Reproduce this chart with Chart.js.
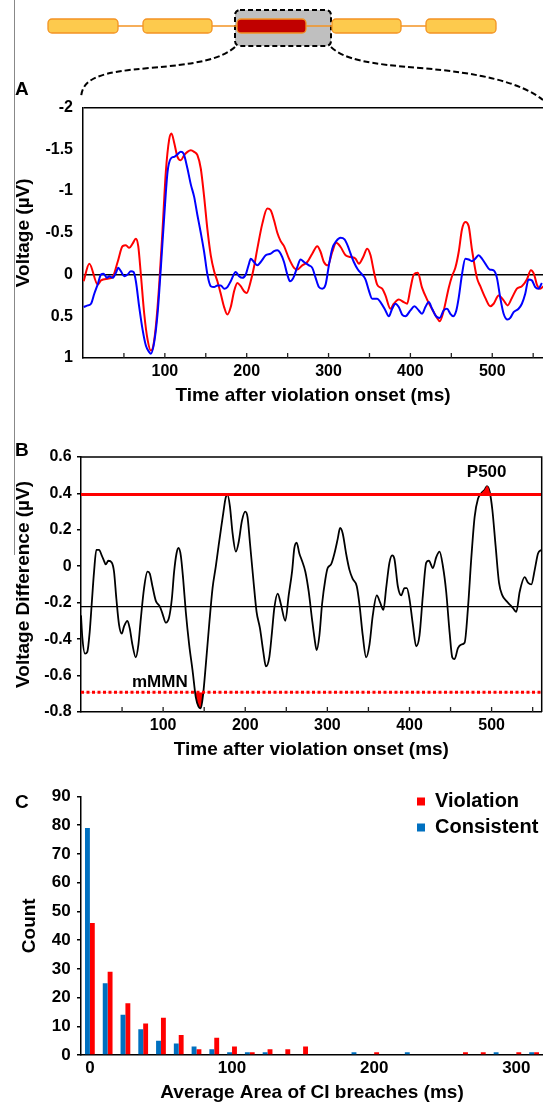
<!DOCTYPE html>
<html>
<head>
<meta charset="utf-8">
<script src="https://cdn.jsdelivr.net/npm/chart.js@4.4.1/dist/chart.umd.min.js"></script>
<style>
  body { margin: 0; background: #fff; width: 543px; height: 1104px; position: relative; overflow: hidden; font-family: 'Liberation Sans', Arial, sans-serif; }
  canvas { position: absolute; left: 0; }
  .tag { position: absolute; left: 15px; font-weight: bold; font-size: 19px; line-height: 19px; }
</style>
</head>
<body>
<div style="position:absolute;left:14px;top:0;width:1px;height:555px;background:#888"></div>

<canvas id="chartA" width="543" height="322" style="top:88px"></canvas>
<canvas id="chartB" width="543" height="322" style="top:442px"></canvas>
<canvas id="chartC" width="543" height="324" style="top:780px"></canvas>

<!-- sentence schematic at the top -->
<svg width="543" height="105" style="position:absolute;left:0;top:0">
  <rect x="235" y="10" width="96" height="36" rx="5" fill="#bfbfbf" stroke="#000" stroke-width="2" stroke-dasharray="5,3"/>
  <line x1="118" y1="26" x2="426" y2="26" stroke="#f39323" stroke-width="1.3"/>
  <rect x="48" y="19" width="70" height="14" rx="4" fill="#fdca4d" stroke="#f39323" stroke-width="1.3"/>
  <rect x="143" y="19" width="69" height="14" rx="4" fill="#fdca4d" stroke="#f39323" stroke-width="1.3"/>
  <rect x="237" y="19" width="69" height="14" rx="4" fill="#c00000" stroke="#f39323" stroke-width="1.3"/>
  <rect x="332" y="19" width="69" height="14" rx="4" fill="#fdca4d" stroke="#f39323" stroke-width="1.3"/>
  <rect x="426" y="19" width="70" height="14" rx="4" fill="#fdca4d" stroke="#f39323" stroke-width="1.3"/>
  <path d="M235 47 C220 60, 195 64, 150 68 C100 72, 82 78, 81 98" fill="none" stroke="#000" stroke-width="2" stroke-dasharray="6,3"/>
  <path d="M331 47 C345 60, 370 64, 420 68 C480 73, 520 82, 543 100" fill="none" stroke="#000" stroke-width="2" stroke-dasharray="6,3"/>
</svg>

<div class="tag" style="top:79px">A</div>
<div class="tag" style="top:440px">B</div>
<div class="tag" style="top:792px">C</div>

<script>
// ---- Panel A: ERP waveforms (violation = red, consistent = blue)
const timeRedA = [0.8,7.7,17.9,22,30.1,36.2,42.3,48.4,52.4,56.5,60.6,64.6,67.5,70.7,74.8,78.9,82.9,85,89,93.1,
  97.2,101.2,105.3,108.1,111.4,115.4,119.5,123.6,127.6,131.7,135.8,139.8,143.9,148,152,156.1,160.2,164.2,168.3,172.4,
  176.4,180.5,184.6,188.6,192.7,196.7,200,204.9,208.9,213,219.1,225.2,229.3,
  233.4,237.4,241.5,245.6,251.7,257.8,261.8,267.9,274,280.1,286.2,290.3,294.3,299.2,304.5,309.4,314.7,320.8,326.9,333,
  337,342.3,347.2,351.3,355.3,359.4,365.5,369.5,375.6,379.7,385.8,391.9,396,400,404.1,409,414.3,420.4,428.5,432.6,
  435.8,440.7,446.8,450.8,454.9,459,463,467.1,471.2,475.2,481.3,485.4,491.5,497.6,501.7,507.8,513.9,518.7,524,530.1,
  536.2,542.3,547.2,551.2,554.5,558.6,562.6];
const voltRedA = [0.08,-0.13,0.12,0.07,0.05,0.03,-0.15,-0.34,-0.35,-0.32,-0.37,-0.43,-0.34,0.0,0.47,0.78,0.91,0.89,0.62,0.12,
  -0.54,-1.23,-1.62,-1.69,-1.58,-1.41,-1.37,-1.43,-1.47,-1.49,-1.47,-1.43,-1.27,-0.93,-0.54,-0.23,-0.04,0.08,0.23,0.39,
  0.48,0.39,0.2,0.1,0.14,0.2,0.22,0.08,-0.09,-0.31,-0.61,-0.79,-0.77,
  -0.65,-0.5,-0.4,-0.34,-0.19,-0.08,-0.06,-0.11,-0.15,-0.25,-0.34,-0.27,-0.15,-0.11,-0.27,-0.38,-0.33,-0.23,-0.21,-0.19,
  -0.13,-0.21,-0.31,-0.23,-0.04,0.12,0.17,0.25,0.41,0.35,0.3,0.33,0.35,0.17,0.0,-0.02,0.16,0.3,0.45,0.52,
  0.56,0.43,0.16,0.02,-0.08,-0.27,-0.54,-0.63,-0.58,-0.3,0.04,0.14,0.28,0.38,0.35,0.25,0.31,0.37,0.28,0.17,
  0.14,0.06,-0.05,0.0,0.12,0.17,0.14];

const timeBlueA = [0.8,5.7,9.8,13.8,17.9,22,25.2,29.3,32.1,36.2,40.2,43.1,46.3,50.4,54.5,58.5,61.8,64.6,68.7,72.8,
  76.8,80.9,82.9,87,91.1,95.1,99.2,103.3,107.3,111.4,115.4,119.5,122.8,127.6,131.7,135.8,139.8,143.9,148,152,
  156.1,160.2,164.2,168.3,172.4,176.4,180.5,186.6,190.7,194.7,198.8,202.8,204.9,208.9,213,217.1,223.2,229.3,
  233.4,237.4,241.5,245.6,249.6,252.9,257,261.8,265.9,270,276.1,280.1,284.2,288.2,292.3,296.4,300.4,304.5,309.4,314.7,
  319.5,323.6,326.9,330.9,335.8,341.1,345.2,349.2,353.3,359.4,363.4,369.5,373.6,377.7,381.7,385.8,389.9,393.9,400,404.9,
  410.2,414.3,418.3,422.4,426.5,431.3,435.8,440.7,444.7,448.8,452.1,456.1,459,463,467.1,471.2,475.2,479.3,483.4,487.4,
  491.5,496.8,501.7,505.7,509.8,513.9,518.7,522,526.1,532.1,536.2,540.3,544.3,548.4,552.5,556.5,560.6];
const voltBlueA = [0.39,0.37,0.35,0.23,0.12,0.0,-0.01,0.04,0.02,0.04,-0.02,-0.08,-0.04,0.02,0.0,-0.04,-0.03,0.08,0.39,0.66,
  0.85,0.93,0.95,0.81,0.47,-0.08,-0.69,-1.23,-1.39,-1.41,-1.44,-1.47,-1.45,-1.27,-1.08,-0.93,-0.71,-0.5,-0.27,0.0,
  0.14,0.15,0.13,0.13,0.17,0.15,0.08,-0.03,0.02,0.04,0.0,-0.13,-0.19,-0.15,-0.11,-0.15,-0.23,-0.25,
  -0.28,-0.29,-0.25,-0.15,0.0,0.08,0.04,-0.09,-0.18,-0.15,-0.11,-0.08,0.04,0.15,0.17,0.12,-0.11,-0.31,-0.4,-0.44,
  -0.42,-0.34,-0.25,-0.15,-0.06,0.0,0.06,0.19,0.29,0.29,0.33,0.43,0.5,0.41,0.35,0.39,0.48,0.5,0.43,0.38,
  0.43,0.47,0.39,0.33,0.41,0.5,0.52,0.43,0.41,0.47,0.5,0.43,0.28,0.0,-0.19,-0.18,-0.16,-0.19,-0.23,-0.19,
  -0.13,-0.06,-0.05,0.04,0.28,0.47,0.54,0.52,0.45,0.41,0.35,0.23,0.06,0.07,0.15,0.17,0.1];

// ---- Panel B: violation minus consistent
const timeDiff = [0,1.6,4.9,7.7,10.6,13,15.9,18.7,22,25.2,28,30.1,33.3,37.4,40.2,43.1,46.3,49.6,52.4,56.5,
  59.3,62.6,66.7,69.9,72.8,76.8,80.9,83.7,87,91.1,95.9,99.2,103.3,107.3,110.6,113.4,116.3,118.7,121.5,124.4,
  127.6,131.7,135.8,139.8,143.1,145.9,148.8,152,156.1,160.2,164.2,167.5,170.3,173.2,176.4,178.5,181.3,184.6,188.6,191.9,
  196,200,202.8,205.7,209.8,213.8,217.9,222,225.2,229.3,
  232.6,235.4,239.5,243.5,248.8,252.9,257,259.8,262.6,265.9,269.1,273.2,277.3,281.3,284.2,287,290.3,293.5,297.6,300.4,
  304.5,308.6,312.6,315.5,318.7,322.8,326.9,330.9,335.8,339.1,343.1,347.2,351.3,355.3,360.2,364.3,368.3,371.6,375.6,378.9,
  381.7,385.8,389.9,393.9,396.8,400,404.1,408.2,412.2,416.3,420.4,423.6,428.5,432.6,436.6,440.7,444.7,448.8,452.1,454.9,
  459,463,467.1,471.2,475.2,479.3,483.4,487.4,491.5,494.3,497.6,500.9,504.9,509,513.1,517.9,522,526.1,530.1,534.2,
  540.3,544.3,548.4,552.5,556.5,560.6];
const voltDiff = [-0.27,-0.39,-0.48,-0.47,-0.36,-0.21,-0.03,0.09,0.09,0.06,0.03,0.01,0.03,0.02,-0.03,-0.18,-0.32,-0.37,-0.33,-0.3,
  -0.34,-0.43,-0.5,-0.43,-0.29,-0.12,-0.03,-0.04,-0.11,-0.19,-0.22,-0.26,-0.31,-0.28,-0.18,-0.03,0.07,0.1,0.06,-0.07,
  -0.25,-0.43,-0.57,-0.72,-0.77,-0.78,-0.7,-0.54,-0.32,-0.12,0.0,0.11,0.2,0.29,0.38,0.39,0.33,0.18,0.08,0.13,
  0.25,0.3,0.27,0.13,-0.07,-0.25,-0.34,-0.47,-0.55,-0.5,
  -0.36,-0.23,-0.15,-0.21,-0.3,-0.16,-0.03,0.1,0.13,0.07,0.03,-0.03,-0.14,-0.29,-0.39,-0.46,-0.38,-0.21,-0.07,-0.01,
  0.01,0.07,0.15,0.21,0.18,0.07,-0.02,-0.07,-0.11,-0.21,-0.38,-0.5,-0.43,-0.27,-0.16,-0.2,-0.24,-0.12,0.02,0.06,
  0.04,-0.11,-0.16,-0.12,-0.12,-0.18,-0.32,-0.44,-0.38,-0.16,0.02,0.03,-0.01,0.05,0.08,0.0,-0.14,-0.36,-0.5,-0.51,
  -0.45,-0.43,-0.42,-0.23,0.04,0.27,0.37,0.4,0.42,0.44,0.41,0.31,0.11,-0.09,-0.16,-0.19,-0.21,-0.23,-0.25,-0.14,
  -0.06,-0.09,-0.1,-0.02,0.07,0.09];
const ciUpper = 0.393;
const ciLower = -0.692;
const meanDiff = -0.222;

// shared x ticks for A and B
const xTicks = [50,100,150,200,250,300,350,400,450,500,550];

// ---- Panel C: histogram of CI breach areas
const binLabels = [0,12.5,25,37.5,50,62.5,75,87.5,100,112.5,125,137.5,150,162.5,175,187.5,200,212.5,225,237.5,250,262.5,275,287.5,300,312.5];
const consistentCounts = [79,25,14,9,5,4,3,2,1,1,1,0,0,0,0,1,0,0,1,0,0,0,0,1,0,1];
const violationCounts  = [46,29,18,11,13,7,2,6,3,1,2,2,3,0,0,0,1,0,0,0,0,1,1,0,1,1];

Chart.defaults.font.family = "'Liberation Sans', Arial, sans-serif";
Chart.defaults.font.weight = 'bold';
Chart.defaults.color = '#000';
Chart.defaults.animation = false;

function pts(t, v) { return t.map((x, i) => ({x: x, y: v[i]})); }
function flat(y, x0, x1) { return [{x: x0, y: y}, {x: x1, y: y}]; }
function short(v) { return String(Number(v.toFixed(1))); }

// tick marks pointing into the plot from the bottom axis
const innerTicks = {
  id: 'innerTicks',
  afterDraw(chart, args, opts) {
    const {ctx, chartArea} = chart;
    const sx = chart.scales.x;
    ctx.save();
    ctx.strokeStyle = '#222';
    ctx.lineWidth = 1.3;
    opts.values.forEach(v => {
      const px = sx.getPixelForValue(v);
      ctx.beginPath();
      ctx.moveTo(px, chartArea.bottom);
      ctx.lineTo(px, chartArea.bottom - 5);
      ctx.stroke();
    });
    ctx.restore();
  }
};

// top + right border for panel B
const frame = {
  id: 'frame',
  afterDraw(chart) {
    const {ctx, chartArea: a} = chart;
    ctx.save();
    ctx.strokeStyle = '#000';
    ctx.lineWidth = 1.5;
    ctx.beginPath();
    ctx.moveTo(a.left, a.top);
    ctx.lineTo(a.right, a.top);
    ctx.lineTo(a.right, a.bottom);
    ctx.stroke();
    ctx.restore();
  }
};

// text labels anchored to data coordinates
const tagText = {
  id: 'tagText',
  afterDatasetsDraw(chart, args, opts) {
    const {ctx, scales} = chart;
    ctx.save();
    ctx.font = "bold 17px 'Liberation Sans', Arial, sans-serif";
    ctx.fillStyle = '#000';
    ctx.textAlign = 'center';
    ctx.textBaseline = 'alphabetic';
    opts.items.forEach(it => {
      ctx.fillText(it.text, scales.x.getPixelForValue(it.x), scales.y.getPixelForValue(it.y));
    });
    ctx.restore();
  }
};

// move the chartArea legend to the top right corner
const legendCorner = {
  id: 'legendCorner',
  afterLayout(chart, args, opts) {
    const lg = chart.legend;
    if (!lg) return;
    const w = lg.width, h = lg.height;
    lg.left = chart.chartArea.right - opts.right;
    lg.right = lg.left + w;
    lg.top = chart.chartArea.top - opts.up;
    lg.bottom = lg.top + h;
  }
};

function timeAxis(max) {
  return {
    type: 'linear', min: 0, max: max,
    afterBuildTicks: s => { s.ticks = xTicks.map(v => ({value: v})); },
    ticks: {autoSkip: false, maxRotation: 0, padding: 4.4, font: {size: 16},
      callback: v => v % 100 === 0 ? String(v) : ''},
    grid: {display: false, drawTicks: false},
    border: {display: true, color: '#000', width: 1.5},
    title: {display: true, text: 'Time after violation onset (ms)', font: {size: 19}, padding: {top: 0, bottom: 2.6}},
    afterFit: s => { s.height = 52; }
  };
}

// Panel A
new Chart(document.getElementById('chartA'), {
  type: 'line',
  data: {
    datasets: [
      {label: 'Consistent', data: pts(timeBlueA, voltBlueA), borderColor: '#0000ff', borderWidth: 2,
        pointRadius: 0, cubicInterpolationMode: 'monotone', fill: false},
      {label: 'Violation', data: pts(timeRedA, voltRedA), borderColor: '#ff0000', borderWidth: 2,
        pointRadius: 0, cubicInterpolationMode: 'monotone', fill: false}
    ]
  },
  options: {
    responsive: false,
    layout: {padding: {top: 11, left: 0, right: 0, bottom: 0}},
    plugins: {legend: {display: false}, tooltip: {enabled: false}, innerTicks: {values: xTicks}},
    scales: {
      x: timeAxis(562),
      y: {
        reverse: true, min: -2, max: 1,
        ticks: {stepSize: 0.5, padding: 10, font: {size: 16}, callback: short},
        grid: {drawTicks: false, lineWidth: 1.5,
          color: c => (Math.abs(c.tick.value) < 1e-9 || Math.abs(c.tick.value + 2) < 1e-9) ? '#000' : 'rgba(0,0,0,0)'},
        border: {display: true, color: '#000', width: 1.5},
        title: {display: true, text: 'Voltage (µV)', font: {size: 19}, padding: {top: 12.6, bottom: 0}},
        afterFit: s => { s.width = 83; }
      }
    }
  },
  plugins: [innerTicks]
});

// Panel B
new Chart(document.getElementById('chartB'), {
  type: 'line',
  data: {
    datasets: [
      {label: 'upper', data: flat(ciUpper, 0, 561), borderColor: '#ff0000', borderWidth: 3, pointRadius: 0, fill: false},
      {label: 'lower', data: flat(ciLower, 0, 561), borderColor: '#ff0000', borderWidth: 3, borderDash: [3, 2.5],
        pointRadius: 0, fill: false},
      {label: 'mean', data: flat(meanDiff, 0, 561), borderColor: '#000', borderWidth: 1.2, pointRadius: 0, fill: false},
      {label: 'P500 area', data: pts(timeDiff, voltDiff), borderWidth: 0, borderColor: 'rgba(0,0,0,0)', pointRadius: 0,
        cubicInterpolationMode: 'monotone',
        fill: {target: {value: ciUpper}, above: '#ff0000', below: 'rgba(0,0,0,0)'}},
      {label: 'difference', data: pts(timeDiff, voltDiff), borderColor: '#000', borderWidth: 1.8, pointRadius: 0,
        cubicInterpolationMode: 'monotone',
        fill: {target: {value: ciLower}, above: 'rgba(0,0,0,0)', below: '#ff0000'}}
    ]
  },
  options: {
    responsive: false,
    layout: {padding: {top: 10.7, left: 0, right: 1.3, bottom: 0}},
    plugins: {
      legend: {display: false}, tooltip: {enabled: false},
      innerTicks: {values: xTicks},
      tagText: {items: [{text: 'mMMN', x: 96, y: -0.664}, {text: 'P500', x: 494, y: 0.489}]}
    },
    scales: {
      x: timeAxis(561),
      y: {
        min: -0.8, max: 0.6,
        ticks: {stepSize: 0.2, padding: 5.3, font: {size: 16}, callback: short},
        grid: {drawOnChartArea: false, drawTicks: true, tickLength: 4, color: '#000', lineWidth: 1.5},
        border: {display: true, color: '#000', width: 1.5},
        title: {display: true, text: 'Voltage Difference (µV)', font: {size: 19}, padding: {top: 12.6, bottom: 0}},
        afterFit: s => { s.width = 81; }
      }
    }
  },
  plugins: [innerTicks, frame, tagText]
});

// Panel C
new Chart(document.getElementById('chartC'), {
  type: 'bar',
  data: {
    labels: binLabels,
    datasets: [
      {label: 'Consistent', data: consistentCounts, backgroundColor: '#0070c0', barPercentage: 1, categoryPercentage: 0.55},
      {label: 'Violation', data: violationCounts, backgroundColor: '#ff0000', barPercentage: 1, categoryPercentage: 0.55}
    ]
  },
  options: {
    responsive: false,
    layout: {padding: {top: 15.7, left: 0, right: 0, bottom: 0}},
    plugins: {
      tooltip: {enabled: false},
      legend: {
        display: true, position: 'chartArea', align: 'start',
        labels: {boxWidth: 8, boxHeight: 8, padding: 6, color: '#000', font: {size: 20, weight: 'bold'},
          sort: (a, b) => b.datasetIndex - a.datasetIndex}
      },
      legendCorner: {right: 132, up: 11}
    },
    scales: {
      x: {
        type: 'category',
        ticks: {autoSkip: false, maxRotation: 0, padding: 2.8, font: {size: 17},
          callback: (v, i) => binLabels[i] % 100 === 0 ? String(binLabels[i]) : ''},
        grid: {display: false, drawTicks: false},
        border: {display: true, color: '#000', width: 1.5},
        title: {display: true, text: 'Average Area of CI breaches (ms)', font: {size: 19}, padding: {top: 0, bottom: 0}},
        afterFit: s => { s.height = 49; }
      },
      y: {
        min: 0, max: 90,
        ticks: {stepSize: 10, padding: 6.3, font: {size: 17}},
        grid: {drawOnChartArea: false, drawTicks: true, tickLength: 4, color: '#000', lineWidth: 1.5},
        border: {display: true, color: '#000', width: 1.5},
        title: {display: true, text: 'Count', font: {size: 19}, padding: {top: 18.6, bottom: 0}},
        afterFit: s => { s.width = 81; }
      }
    }
  },
  plugins: [legendCorner]
});
</script>
</body>
</html>
